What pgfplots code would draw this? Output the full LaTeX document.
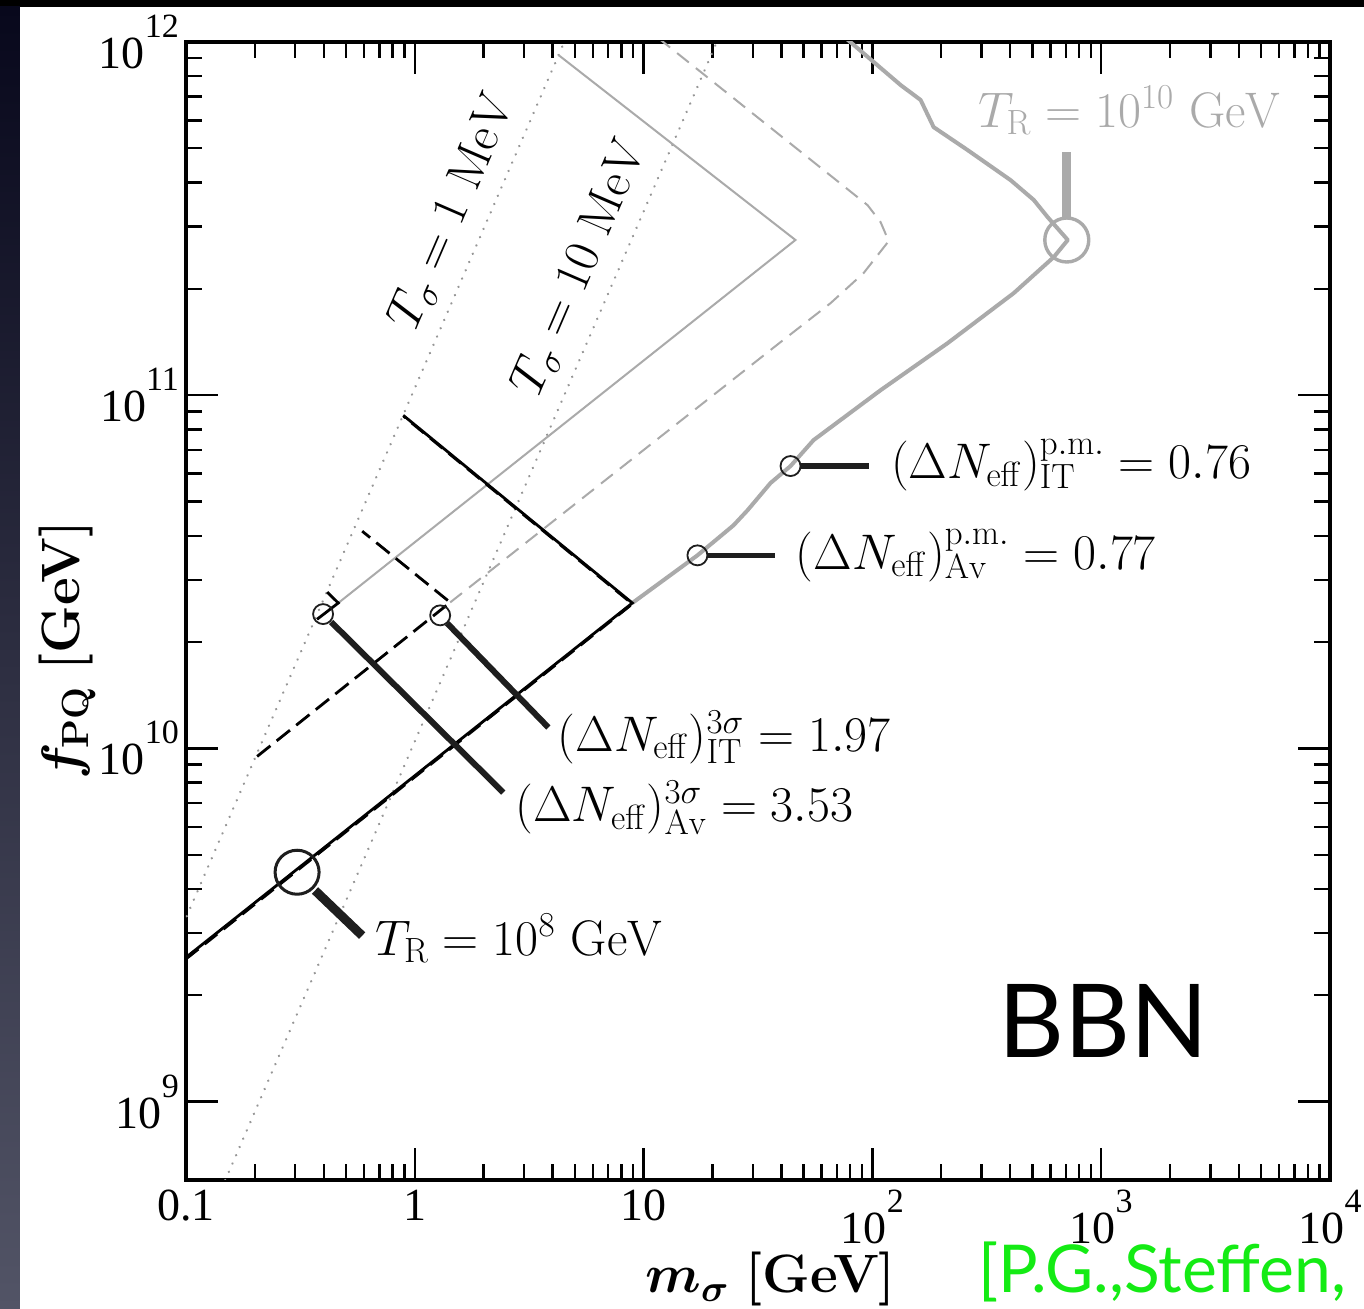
\RequirePackage{fix-cm}
\documentclass[border=0pt]{standalone}
\usepackage[no-math]{fontspec}
\usepackage{pgfplots}
\pgfplotsset{compat=1.18}
\newfontfamily\timesfont{Liberation Serif}
\newfontfamily\gillfont{Lato}
\newcommand{\tsup}[1]{\raisebox{15.5pt}{\fontsize{17}{17}\selectfont #1}}
\definecolor{lgray}{RGB}{170,170,170}
\definecolor{dgray}{RGB}{150,150,150}
\definecolor{ggreen}{RGB}{20,235,20}
\definecolor{dark}{RGB}{30,30,30}
\begin{document}
\begin{tikzpicture}
\fill[black] (-93pt,-64.5pt) rectangle (589pt,590pt);
\shade[top color={rgb,255:red,8;green,8;blue,28}, bottom color={rgb,255:red,82;green,84;blue,102}] (-93pt,-64.5pt) rectangle (-83pt,586.5pt);
\fill[white] (-83pt,-64.5pt) rectangle (589pt,586.5pt);
\path[use as bounding box] (-93pt,-64.5pt) rectangle (589pt,590pt);
\begin{axis}[
  at={(0pt,0pt)}, anchor=south west,
  scale only axis, width=572pt, height=569pt,
  xmode=log, ymode=log,
  xmin=0.1, xmax=10000, ymin=6e8, ymax=1e12,
  axis line style={line width=1.8pt},
  every tick/.style={black, line width=1.2pt},
  major tick length=16pt, minor tick length=8pt,
  xtick={0.1,1,10,100,1000,10000},
  ytick={1e9,1e10,1e11,1e12},
  xticklabels={0.1,1,10,10\tsup{2},10\tsup{3},10\tsup{4}},
  yticklabels={10\tsup{9},10\tsup{10},10\tsup{11},10\tsup{12}},
  ticklabel style={font=\timesfont\fontsize{23}{27}\selectfont},
  xticklabel style={yshift=-1.5pt},
]
% T_sigma dotted lines
\addplot[dgray, line width=1.3pt, line cap=round, dash pattern=on 0.01pt off 4.5pt] coordinates {(0.0631,1.66e9) (6.31,1.66e12)};
\addplot[dgray, line width=1.3pt, line cap=round, dash pattern=on 0.01pt off 4.5pt] coordinates {(0.1,3.31e8) (31.6,1.86e12)};
% thin gray solid
\addplot[lgray, line width=1pt] coordinates {(0.463,2.58e10) (46.1,2.75e11) (4.24,9.19e11)};
% thin gray dashed
\addplot[lgray, line width=1pt, dash pattern=on 7.5pt off 4.5pt] coordinates {(1.428,2.59e10) (39.67,1.413e11) (65.64,1.822e11) (91.5,2.216e11) (117.8,2.73e11) (108.6,3.09e11) (95.3,3.45e11) (11.5,1.03e12)};
% thick gray (p.m.)
\addplot[lgray, line width=2pt, line join=round] coordinates {(8.93,2.58e10) (17.19,3.52e10) (24.71,4.28e10) (28.45,4.72e10) (35.87,5.64e10) (43.87,6.30e10) (55.3,7.46e10) (108.6,1.033e11) (213.3,1.404e11) (414.7,1.945e11) (620.4,2.46e11) (714.4,2.75e11) (583.9,3.19e11) (507.3,3.57e11) (402.3,4.06e11) (260.9,4.94e11) (185.2,5.74e11) (162.5,6.85e11) (132.9,7.55e11) (76.4,1.026e12)};
% black solid big and dashed overlay
\addplot[black, line width=1.4pt] coordinates {(0.1,2.56e9) (8.93,2.58e10) (0.890,8.77e10)};
\addplot[black, line width=1.2pt, dash pattern=on 8pt off 4pt] coordinates {(0.1,2.53e9) (8.93,2.56e10) (0.893,8.70e10)};
% small black solid
\addplot[black, line width=1.4pt] coordinates {(0.374,2.32e10) (0.463,2.58e10) (0.414,2.77e10)};
% small black dashed
\addplot[black, line width=1.4pt, dash pattern=on 8.5pt off 4pt] coordinates {(0.2046,9.49e9) (1.428,2.59e10) (0.589,4.12e10)};
% markers and connectors
\addplot[dark, line width=4.5pt] coordinates {(0.3665,3.96e9) (0.5888,2.95e9)};
\addplot[only marks, mark=o, mark size=11pt, mark options={dark, line width=1.5pt}] coordinates {(0.3059,4.46e9)};
\addplot[dark, line width=3pt] coordinates {(0.4308,2.28e10) (2.436,7.50e9)};
\addplot[dark, line width=3pt] coordinates {(1.386,2.26e10) (3.834,1.146e10)};
\addplot[only marks, mark=o, mark size=5pt, mark options={dark, line width=0.9pt}] coordinates {(0.3974,2.40e10) (1.291,2.38e10) (43.87,6.30e10) (17.19,3.52e10)};
\addplot[dark, line width=2.6pt] coordinates {(48.5,6.30e10) (96.2,6.30e10)};
\addplot[dark, line width=2.6pt] coordinates {(19.0,3.52e10) (37.7,3.52e10)};
\addplot[lgray, line width=4.5pt] coordinates {(707.3,3.17e11) (707.3,4.88e11)};
\addplot[only marks, mark=o, mark size=11pt, mark options={lgray, line width=1.7pt}] coordinates {(707.3,2.75e11)};
% labels
\node[anchor=base west, inner sep=0pt, text=lgray, font=\fontsize{25}{30}\selectfont] at (axis cs:288.4,5.74e11) {$T_{\mathrm{R}} = 10^{10}\ \mathrm{GeV}$};
\node[anchor=base west, inner sep=0pt, font=\fontsize{25}{30}\selectfont] at (axis cs:0.671,2.60e9) {$T_{\mathrm{R}} = 10^{8}\ \mathrm{GeV}$};
\node[anchor=base west, inner sep=0pt, font=\fontsize{25}{30}\selectfont] at (axis cs:120.1,5.80e10) {$(\Delta N_{\mathrm{eff}})^{\mathrm{p.m.}}_{\mathrm{IT}} = 0.76$};
\node[anchor=base west, inner sep=0pt, font=\fontsize{25}{30}\selectfont] at (axis cs:46.1,3.22e10) {$(\Delta N_{\mathrm{eff}})^{\mathrm{p.m.}}_{\mathrm{Av}} = 0.77$};
\node[anchor=base west, inner sep=0pt, font=\fontsize{25}{30}\selectfont] at (axis cs:4.198,9.80e9) {$(\Delta N_{\mathrm{eff}})^{3\sigma}_{\mathrm{IT}} = 1.97$};
\node[anchor=base west, inner sep=0pt, font=\fontsize{25}{30}\selectfont] at (axis cs:2.749,6.20e9) {$(\Delta N_{\mathrm{eff}})^{3\sigma}_{\mathrm{Av}} = 3.53$};
\node[rotate=66.6, inner sep=0pt, font=\fontsize{25}{30}\selectfont] at (axis cs:1.47,3.30e11) {$T_{\sigma} = 1\ \mathrm{MeV}$};
\node[rotate=66.6, inner sep=0pt, font=\fontsize{25}{30}\selectfont] at (axis cs:5.29,2.29e11) {$T_{\sigma} = 10\ \mathrm{MeV}$};
\node[inner sep=0pt, font=\gillfont\fontsize{51}{60}\selectfont] at (axis cs:1026,1.696e9) {BBN};
\end{axis}
\node[anchor=base west, inner sep=0pt, font=\fontsize{27}{32}\selectfont] at (229.5pt,-56.5pt) {{\boldmath$m_{\sigma}$}\ \textbf{[GeV]}};
\node[anchor=base west, inner sep=0pt, rotate=90, font=\fontsize{27}{32}\selectfont] at (-53pt,200pt) {{\boldmath$f_{\mathbf{PQ}}$}\ \textbf{[GeV]}};
\node[anchor=base west, inner sep=0pt, text=ggreen, font=\gillfont\fontsize{33}{38}\selectfont] at (396pt,-56.5pt) {[P.G.,Steffen,};
\end{tikzpicture}
\end{document}
